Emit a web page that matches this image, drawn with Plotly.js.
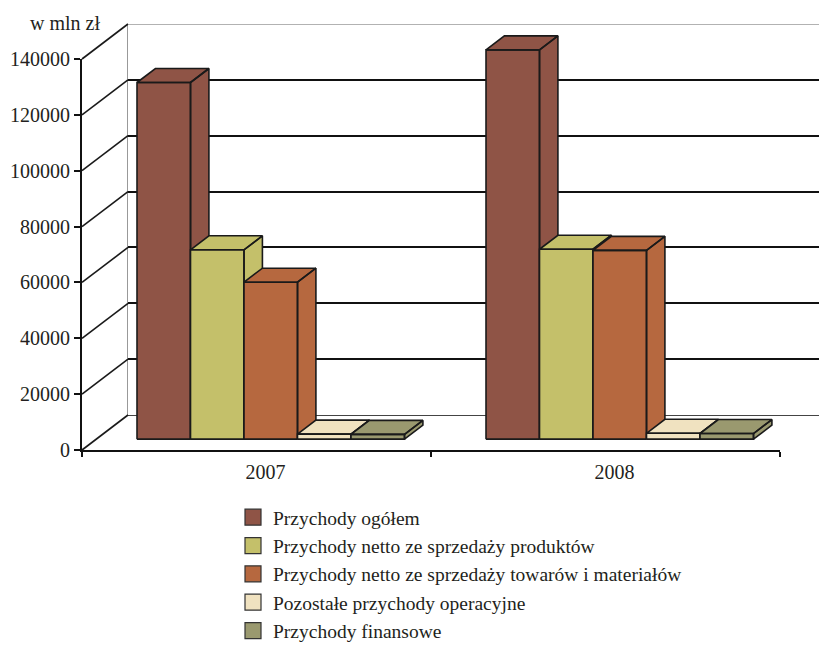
<!DOCTYPE html>
<html>
<head>
<meta charset="utf-8">
<script src="https://cdn.plot.ly/plotly-3.0.1.min.js"></script>
<style>html,body{margin:0;padding:0;background:#fff}#chart{width:819px;height:645px}</style>
</head>
<body>
<div id="chart"></div>
<script>
// ---- data ----
const categories = ['2007', '2008'];
const seriesNames = [
  'Przychody ogółem',
  'Przychody netto ze sprzedaży produktów',
  'Przychody netto ze sprzedaży towarów i materiałów',
  'Pozostałe przychody operacyjne',
  'Przychody finansowe'
];
const przychodyOgolem = [127700, 139400];
const przychodyProdukty = [67800, 68000];
const przychodyTowary = [56200, 67600];
const pozostale = [1800, 2100];
const finansowe = [1700, 2000];
const yTickVals = [0, 20000, 40000, 60000, 80000, 100000, 120000, 140000];
const yTickText = ['0', '20000', '40000', '60000', '80000', '100000', '120000', '140000'];
const yUnitLabel = 'w mln zł';

// ---- styles ----
const seriesValues = [przychodyOgolem, przychodyProdukty, przychodyTowary, pozostale, finansowe];
const colors = ['#8F5446', '#C4C06A', '#B6683F', '#F0E2C0', '#9A996F'];
const FONT = 'Liberation Serif, Times New Roman, serif';
const W = 819, H = 645;

// geometry of the pseudo-3D projection (pixel based layout constants)
const pxPerCat = 349;
const catCenterPx = 256.5;
const zeroPx = 450;
const topPx = 59;
const vMax = 140000;
const pxPerVal = (zeroPx - topPx) / vMax;
const backDxPx = 46, backDyPx = 35;
const DX = backDxPx / pxPerCat;
const DY = backDyPx / pxPerVal;
const barW = 53.5 / pxPerCat;
const d0 = 0.31, d1 = 0.40;

const traces = [];
// side wall lines (diagonals from front ticks to back wall)
const dgx = [], dgy = [];
yTickVals.forEach(v => { dgx.push(-0.5, -0.5 + DX, null); dgy.push(v, v + DY, null); });
traces.push({type: 'scatter', mode: 'lines', x: dgx, y: dgy, xaxis: 'x2', yaxis: 'y2',
  line: {color: '#1a1a1a', width: 1.6}, showlegend: false, hoverinfo: 'skip'});

// bars
seriesValues.forEach((vals, j) => {
  const xs = [], ys = [];
  vals.forEach((v, i) => {
    const xl = i + (j - 2.5) * barW + d0 * DX;
    const xr = xl + barW;
    const b = d0 * DY;
    const tx = d1 * DX, ty = d1 * DY;
    xs.push(xr, xr + tx, xr + tx, xr, xr, null);
    ys.push(b, b + ty, b + v + ty, b + v, b, null);
    xs.push(xl, xr, xr + tx, xl + tx, xl, null);
    ys.push(b + v, b + v, b + v + ty, b + v + ty, b + v, null);
    xs.push(xl, xr, xr, xl, xl, null);
    ys.push(b, b, b + v, b + v, b, null);
  });
  traces.push({type: 'scatter', mode: 'lines', fill: 'toself', fillcolor: colors[j],
    x: xs, y: ys, xaxis: 'x2', yaxis: 'y2', line: {color: '#1a1a1a', width: 1.6},
    showlegend: false, hoverinfo: 'skip'});
});
// legend entries
seriesNames.forEach((n, j) => {
  traces.push({type: 'scatter', mode: 'markers', x: [null], y: [null], xaxis: 'x2', yaxis: 'y2',
    name: n, legendgroup: 'g' + j,
    marker: {symbol: 'square', size: 16, color: colors[j], line: {color: '#333', width: 1.2}}});
});
// anchor trace so the front-axis subplot is built
traces.push({type: 'scatter', mode: 'markers', x: [-0.5], y: [0], xaxis: 'x3', yaxis: 'y3',
  marker: {opacity: 0}, showlegend: false, hoverinfo: 'skip'});

const layout = {
  width: W, height: H,
  margin: {l: 0, r: 0, t: 0, b: 0, pad: 0, autoexpand: false},
  paper_bgcolor: '#fff', plot_bgcolor: 'rgba(0,0,0,0)',
  font: {family: FONT, size: 20, color: '#231f20'},
  showlegend: true,
  legend: {x: 233 / W, xanchor: 'left', y: 1 - 498 / H, yanchor: 'top', bgcolor: 'rgba(0,0,0,0)',
    font: {family: FONT, size: 19.5, color: '#231f20'}, itemsizing: 'trace', tracegroupgap: 0},
  // back wall
  xaxis: {domain: [128 / W, 1], range: [0, 1], showgrid: false, zeroline: false, showticklabels: false,
    ticks: '', showline: true, linecolor: '#444', linewidth: 1, anchor: 'y', fixedrange: true},
  yaxis: {domain: [1 - (zeroPx - backDyPx) / H, 1 - (topPx - backDyPx) / H], range: [0, vMax],
    tickvals: yTickVals.slice(1, -1), showgrid: true, gridcolor: '#111', gridwidth: 2,
    showticklabels: false, ticks: '', zeroline: false, showline: true, linecolor: '#999', linewidth: 1,
    anchor: 'x', fixedrange: true},
  // bar space (full paper, front-plane calibrated)
  xaxis2: {domain: [0, 1], range: [-catCenterPx / pxPerCat, (W - catCenterPx) / pxPerCat],
    anchor: 'free', position: 1 - zeroPx / H, tickvals: [0, 1], ticktext: categories,
    ticks: '', showline: false, showgrid: false, zeroline: false, fixedrange: true,
    ticklabelstandoff: 8, ticklabelshift: 9,
    tickfont: {family: FONT, size: 20, color: '#231f20'}},
  yaxis2: {domain: [0, 1], range: [-(H - zeroPx) / pxPerVal, zeroPx / pxPerVal], visible: false,
    anchor: 'x2', fixedrange: true},
  // front axes
  xaxis3: {domain: [82 / W, 780 / W], range: [-0.5, 1.5], tickvals: [-0.5, 0.5, 1.5],
    showticklabels: false, ticks: 'outside', ticklen: 5, tickwidth: 2, tickcolor: '#111',
    showline: true, linecolor: '#111', linewidth: 2, showgrid: false, zeroline: false,
    anchor: 'y3', fixedrange: true},
  yaxis3: {domain: [1 - zeroPx / H, 1 - topPx / H], range: [0, vMax], tickvals: yTickVals,
    ticktext: yTickText,
    ticks: 'outside', ticklen: 6, tickwidth: 2, tickcolor: '#111', showline: true, linecolor: '#111',
    linewidth: 2, showgrid: false, zeroline: false, anchor: 'x3', fixedrange: true,
    tickfont: {family: FONT, size: 20, color: '#231f20'}},
  shapes: [
    {type: 'line', xref: 'x domain', yref: 'y', x0: 0, x1: 1, y0: vMax, y1: vMax,
     line: {color: '#999', width: 1.5}}
  ],
  annotations: [
    {text: yUnitLabel, xref: 'paper', yref: 'paper', x: 28 / W, y: 1 - 23 / H, xanchor: 'left',
     yanchor: 'middle', showarrow: false, font: {family: FONT, size: 20, color: '#231f20'}}
  ]
};

Plotly.newPlot('chart', traces, layout, {displayModeBar: false, staticPlot: true});
</script>
</body>
</html>
